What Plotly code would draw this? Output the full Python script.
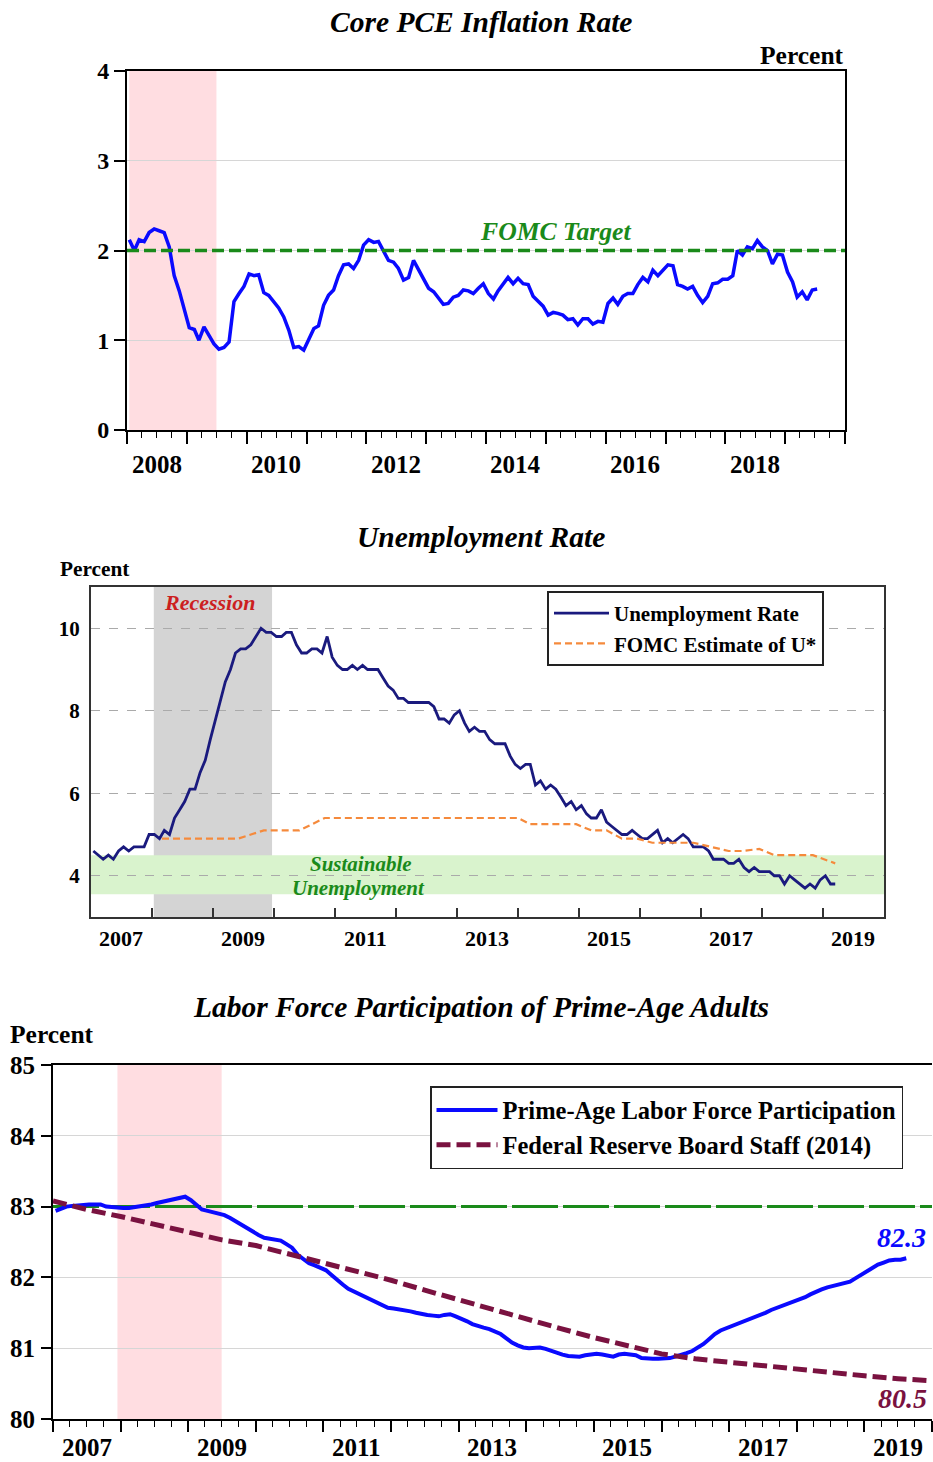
import pandas as pd
import plotly.graph_objects as go

W, H = 933, 1462
FONT = "Liberation Serif"

# ---- Core PCE inflation (percent, monthly from Jan 2008) ----
pce_start = "2008-01-01"
pce = [
    2.12, 2.00, 2.12, 2.10, 2.20, 2.24, 2.22, 2.20, 2.04, 1.72, 1.55, 1.35,
    1.14, 1.12, 1.00, 1.15, 1.05, 0.96, 0.90, 0.92, 0.98, 1.43, 1.52, 1.60,
    1.74, 1.72, 1.73, 1.53, 1.50, 1.43, 1.36, 1.26, 1.11, 0.92, 0.93, 0.89,
    1.00, 1.13, 1.16, 1.39, 1.50, 1.56, 1.72, 1.84, 1.85, 1.80, 1.89, 2.06,
    2.12, 2.09, 2.10, 2.00, 1.89, 1.87, 1.80, 1.67, 1.70, 1.89, 1.78, 1.68,
    1.58, 1.54, 1.47, 1.40, 1.41, 1.48, 1.50, 1.56, 1.55, 1.52, 1.58, 1.63,
    1.52, 1.46, 1.55, 1.63, 1.70, 1.63, 1.69, 1.63, 1.62, 1.49, 1.44, 1.38,
    1.28, 1.31, 1.30, 1.28, 1.23, 1.24, 1.17, 1.24, 1.24, 1.18, 1.21, 1.20,
    1.41, 1.47, 1.40, 1.49, 1.52, 1.52, 1.62, 1.70, 1.65, 1.78, 1.72, 1.78,
    1.84, 1.83, 1.62, 1.60, 1.57, 1.60, 1.50, 1.42, 1.49, 1.63, 1.64, 1.68,
    1.68, 1.72, 2.00, 1.95, 2.04, 2.02, 2.11, 2.04, 2.00, 1.85, 1.96, 1.95,
    1.76, 1.65, 1.48, 1.54, 1.45, 1.56, 1.57,
]
fomc_target = 2.0
p1_years = [2008, 2010, 2012, 2014, 2016, 2018]

# ---- Unemployment rate (percent, monthly from Jan 2007) ----
unrate_start = "2007-01-01"
unrate = [
    4.6, 4.5, 4.4, 4.5, 4.4, 4.6, 4.7, 4.6, 4.7, 4.7, 4.7, 5.0,
    5.0, 4.9, 5.1, 5.0, 5.4, 5.6, 5.8, 6.1, 6.1, 6.5, 6.8, 7.3,
    7.8, 8.3, 8.7, 9.0, 9.4, 9.5, 9.5, 9.6, 9.8, 10.0, 9.9, 9.9,
    9.8, 9.8, 9.9, 9.9, 9.6, 9.4, 9.4, 9.5, 9.5, 9.4, 9.8, 9.3,
    9.1, 9.0, 9.0, 9.1, 9.0, 9.1, 9.0, 9.0, 9.0, 8.8, 8.6, 8.5,
    8.3, 8.3, 8.2, 8.2, 8.2, 8.2, 8.2, 8.1, 7.8, 7.8, 7.7, 7.9,
    8.0, 7.7, 7.5, 7.6, 7.5, 7.5, 7.3, 7.2, 7.2, 7.2, 6.9, 6.7,
    6.6, 6.7, 6.7, 6.2, 6.3, 6.1, 6.2, 6.1, 5.9, 5.7, 5.8, 5.6,
    5.7, 5.5, 5.4, 5.4, 5.6, 5.3, 5.2, 5.1, 5.0, 5.0, 5.1, 5.0,
    4.9, 4.9, 5.0, 5.1, 4.8, 4.9, 4.8, 4.9, 5.0, 4.9, 4.7, 4.7,
    4.7, 4.6, 4.4, 4.4, 4.4, 4.3, 4.3, 4.4, 4.2, 4.1, 4.2, 4.1,
    4.1, 4.1, 4.0, 4.0, 3.8, 4.0, 3.9, 3.8, 3.7, 3.8, 3.7, 3.9,
    4.0, 3.8, 3.8,
]
ustar_dates = [
    "2008-03-01", "2009-06-01", "2009-11-01", "2010-06-01", "2010-11-01",
    "2014-01-01", "2014-03-15", "2014-12-15", "2015-03-15", "2015-06-15",
    "2015-09-15", "2015-12-15", "2016-03-15", "2016-11-15", "2017-03-01",
    "2017-06-15", "2017-09-01", "2017-12-15", "2018-03-15", "2018-11-01",
    "2019-03-15",
]
ustar = [4.9, 4.9, 5.1, 5.1, 5.4, 5.4, 5.25, 5.25, 5.1, 5.1, 4.9, 4.9,
         4.8, 4.8, 4.7, 4.6, 4.6, 4.65, 4.5, 4.5, 4.3]
sustainable_band = (3.55, 4.5)
p2_years = [2007, 2009, 2011, 2013, 2015, 2017, 2019]

# ---- Prime-age labor force participation (percent, monthly from Jan 2007) ----
lfpr_start = "2007-01-01"
lfpr = [
    82.94, 82.97, 83.00, 83.01, 83.02, 83.03, 83.03, 83.03, 83.03, 83.00, 82.99, 82.98,
    82.98, 82.98, 82.99, 83.00, 83.01, 83.03, 83.05, 83.07, 83.09, 83.11, 83.13, 83.14,
    83.09, 83.03, 82.96, 82.94, 82.92, 82.90, 82.88, 82.84, 82.79, 82.74, 82.69, 82.64,
    82.60, 82.56, 82.55, 82.54, 82.52, 82.47, 82.42, 82.32, 82.26, 82.20, 82.17, 82.14,
    82.10, 82.03, 81.96, 81.90, 81.84, 81.80, 81.76, 81.73, 81.69, 81.65, 81.61, 81.57,
    81.56, 81.55, 81.53, 81.52, 81.50, 81.48, 81.47, 81.46, 81.45, 81.47, 81.48, 81.45,
    81.42, 81.38, 81.34, 81.31, 81.29, 81.27, 81.24, 81.20, 81.14, 81.08, 81.04, 81.01,
    81.00, 81.00, 81.01, 80.99, 80.96, 80.94, 80.91, 80.89, 80.88, 80.88, 80.90, 80.91,
    80.92, 80.91, 80.89, 80.88, 80.91, 80.92, 80.91, 80.90, 80.86, 80.85, 80.85, 80.85,
    80.85, 80.86, 80.88, 80.90, 80.93, 80.96, 81.01, 81.06, 81.13, 81.20, 81.25, 81.28,
    81.31, 81.34, 81.37, 81.40, 81.44, 81.47, 81.50, 81.54, 81.57, 81.59, 81.62, 81.66,
    81.69, 81.72, 81.76, 81.80, 81.83, 81.86, 81.88, 81.90, 81.91, 81.94, 81.99, 82.04,
    82.08, 82.13, 82.18, 82.21, 82.24, 82.25, 82.25, 82.27,
]
staff_dates = [f"{y}-{m}-01" for y in range(2007, 2020) for m in ("01", "07")] + ["2020-01-01"]
staff = [83.08, 82.96, 82.86, 82.75, 82.63, 82.53, 82.45, 82.33, 82.20, 82.08,
         81.96, 81.82, 81.68, 81.54, 81.41, 81.28, 81.15, 81.03, 80.92, 80.85,
         80.80, 80.75, 80.70, 80.65, 80.61, 80.57, 80.54]
lfpr_benchmark = 83.0
p3_years = [2007, 2009, 2011, 2013, 2015, 2017, 2019]

# recession shading per panel
rec1 = ("2008-01-15", "2009-06-30")
rec2 = ("2008-01-12", "2009-12-20")
rec3 = ("2007-12-15", "2009-06-30")

r1 = ["2008-01-01", "2020-01-01"]
r2 = ["2007-01-01", "2020-01-01"]
r3 = ["2007-01-01", "2020-01-01"]

BLUE = "#0a0aff"
NAVY = "#1a1a7e"
ORANGE = "#f58a3c"
GREEN = "#1a8a1a"
MAROON = "#7a1240"


def monthly(start, n):
    return pd.date_range(start, periods=n, freq="MS") + pd.Timedelta(days=14)


def fnt(size, color="black", italic=False):
    return dict(family=FONT, size=size, color=color, weight="bold",
                style="italic" if italic else "normal")


def label(text, x, y, size, color="black", italic=False):
    return dict(text=text, x=x / W, y=1 - y / H, xref="paper", yref="paper",
                xanchor="center", yanchor="middle", showarrow=False,
                font=fnt(size, color, italic))


def year_labels(xref, years, y, size, anchor="middle"):
    return [dict(text=str(yr), x=f"{yr}-07-01", xref=xref, y=1 - y / H, yref="paper",
                 xanchor="center", yanchor=anchor, showarrow=False, borderpad=0,
                 font=fnt(size))
            for yr in years]


def ydom(top, bottom):
    return [1 - bottom / H, 1 - top / H]


fig = go.Figure()

# panel 1
fig.add_trace(go.Scatter(x=monthly(pce_start, len(pce)), y=pce, mode="lines",
                         line=dict(color=BLUE, width=3.5), showlegend=False,
                         xaxis="x", yaxis="y"))

# panel 2
fig.add_trace(go.Scatter(x=monthly(unrate_start, len(unrate)), y=unrate, mode="lines",
                         name="Unemployment Rate", line=dict(color=NAVY, width=2.8),
                         xaxis="x2", yaxis="y2", legend="legend"))
fig.add_trace(go.Scatter(x=pd.to_datetime(ustar_dates), y=ustar, mode="lines",
                         name="FOMC Estimate of U*",
                         line=dict(color=ORANGE, width=2.2, dash="7px,4px"),
                         xaxis="x2", yaxis="y2", legend="legend"))

# panel 3
fig.add_trace(go.Scatter(x=pd.to_datetime(r3), y=[lfpr_benchmark, lfpr_benchmark],
                         mode="lines", line=dict(color=GREEN, width=3, dash="46px,5px"),
                         showlegend=False, hoverinfo="skip", xaxis="x3", yaxis="y3"))
fig.add_trace(go.Scatter(x=monthly(lfpr_start, len(lfpr)), y=lfpr, mode="lines",
                         name="Prime-Age Labor Force Participation",
                         line=dict(color=BLUE, width=4),
                         xaxis="x3", yaxis="y3", legend="legend2"))
fig.add_trace(go.Scatter(x=pd.to_datetime(staff_dates), y=staff, mode="lines",
                         name="Federal Reserve Board Staff (2014)",
                         line=dict(color=MAROON, width=5, dash="14px,6px"),
                         xaxis="x3", yaxis="y3", legend="legend2"))

shapes = [
    dict(type="rect", xref="x", yref="y domain", x0=rec1[0], x1=rec1[1], y0=0, y1=1,
         fillcolor="#ffdde1", line_width=0, layer="below"),
    dict(type="line", xref="x domain", yref="y", x0=0, x1=1, y0=fomc_target, y1=fomc_target,
         line=dict(color=GREEN, width=3.5, dash="12px,5px"), layer="above"),
    dict(type="rect", xref="x2", yref="y2 domain", x0=rec2[0], x1=rec2[1], y0=0, y1=1,
         fillcolor="#d4d4d4", line_width=0, layer="below"),
    dict(type="rect", xref="x2 domain", yref="y2", x0=0, x1=1,
         y0=sustainable_band[0], y1=sustainable_band[1],
         fillcolor="#d9f3cd", line_width=0, layer="below"),
    dict(type="rect", xref="x3", yref="y3 domain", x0=rec3[0], x1=rec3[1], y0=0, y1=1,
         fillcolor="#ffdde1", line_width=0, layer="below"),
]

annotations = [
    label("Core PCE Inflation Rate", 481, 22, 29.5, italic=True),
    label("Percent", 802, 55, 25.5),
    label("FOMC Target", 555, 231, 25.7, GREEN, italic=True),
    label("Unemployment Rate", 481, 537, 29.5, italic=True),
    label("Percent", 94, 569, 21.3),
    label("Recession", 209, 602, 22, "#cc1f1f", italic=True),
    label("Sustainable", 361, 864, 21, GREEN, italic=True),
    label("Unemployment", 358, 888, 21, GREEN, italic=True),
    label("Labor Force Participation of Prime-Age Adults", 481, 1007, 29.5, italic=True),
    label("Percent", 52, 1034, 25.5),
    label("82.3", 901, 1237, 28, BLUE, italic=True),
    label("80.5", 902, 1398, 28, MAROON, italic=True),
]
annotations += year_labels("x", p1_years, 464, 25)
annotations += year_labels("x2", p2_years, 938, 22)
annotations += year_labels("x3", p3_years, H, 25, anchor="bottom")


def date_axis(dom, anchor, rng, tick_dir, ticklen, color, minor, mirror):
    ax = dict(domain=dom, anchor=anchor, type="date", range=rng, automargin=False,
              tickmode="linear", tick0=rng[0], dtick="M12",
              ticks=tick_dir, ticklen=ticklen, tickwidth=1.5, tickcolor=color,
              showticklabels=False, showgrid=False, zeroline=False,
              showline=True, linecolor=color, linewidth=2, mirror=mirror)
    if minor:
        ax["minor"] = dict(ticks=tick_dir, ticklen=6, tickwidth=1.2, tickcolor=color,
                           dtick="M3", tick0=rng[0], showgrid=False)
    return ax


fig.update_layout(
    width=W, height=H, autosize=False,
    margin=dict(l=0, r=0, t=0, b=0),
    paper_bgcolor="white", plot_bgcolor="white",
    font=dict(family=FONT, color="black"),
    xaxis=date_axis([127 / W, 845 / W], "y", r1, "outside", 12, "black", True, True),
    yaxis=dict(domain=ydom(71, 430), anchor="x", range=[0, 4], tickvals=[0, 1, 2, 3, 4],
               automargin=False, ticks="outside", ticklen=11, tickcolor="black",
               tickwidth=1.5, showgrid=True, gridcolor="#d6d6d6", zeroline=False,
               showline=True, linecolor="black", linewidth=2, mirror=True,
               tickfont=fnt(24), ticklabelstandoff=0),
    xaxis2=date_axis([91 / W, 884 / W], "y2", r2, "inside", 9, "#333333", False, True),
    yaxis2=dict(domain=ydom(587, 917), anchor="x2", range=[3, 11], tickvals=[4, 6, 8, 10],
                automargin=False, ticks="", showgrid=True, gridcolor="#aaaaaa",
                griddash="dash", gridwidth=1, zeroline=False, showline=True,
                linecolor="#333333", linewidth=2, mirror=True, tickfont=fnt(21),
                ticklabelstandoff=5),
    xaxis3=date_axis([53 / W, 932 / W], "y3", r3, "outside", 11, "black", True, True),
    yaxis3=dict(domain=ydom(1065, 1419), anchor="x3", range=[80, 85],
                tickvals=[80, 81, 82, 83, 84, 85], automargin=False, ticks="outside",
                ticklen=10, tickcolor="black", tickwidth=1.5, showgrid=True,
                gridcolor="#d6d6d6", zeroline=False, showline=True, linecolor="black",
                linewidth=2, mirror=False, tickfont=fnt(25), ticklabelstandoff=1),
    legend=dict(x=547 / W, y=1 - 591 / H, xanchor="left", yanchor="top",
                bgcolor="white", bordercolor="#222222", borderwidth=2,
                font=fnt(21), tracegroupgap=0, itemwidth=55),
    legend2=dict(x=430 / W, y=1 - 1086 / H, xanchor="left", yanchor="top",
                 bgcolor="white", bordercolor="#222222", borderwidth=1.5,
                 font=fnt(24.5), tracegroupgap=0, itemwidth=61),
    shapes=shapes,
    annotations=annotations,
)

# the page's default body margin would push the figure 8px off the window
fig.write_html("out.html", post_script="document.body.style.margin='0px';",
               config={"displayModeBar": False})
